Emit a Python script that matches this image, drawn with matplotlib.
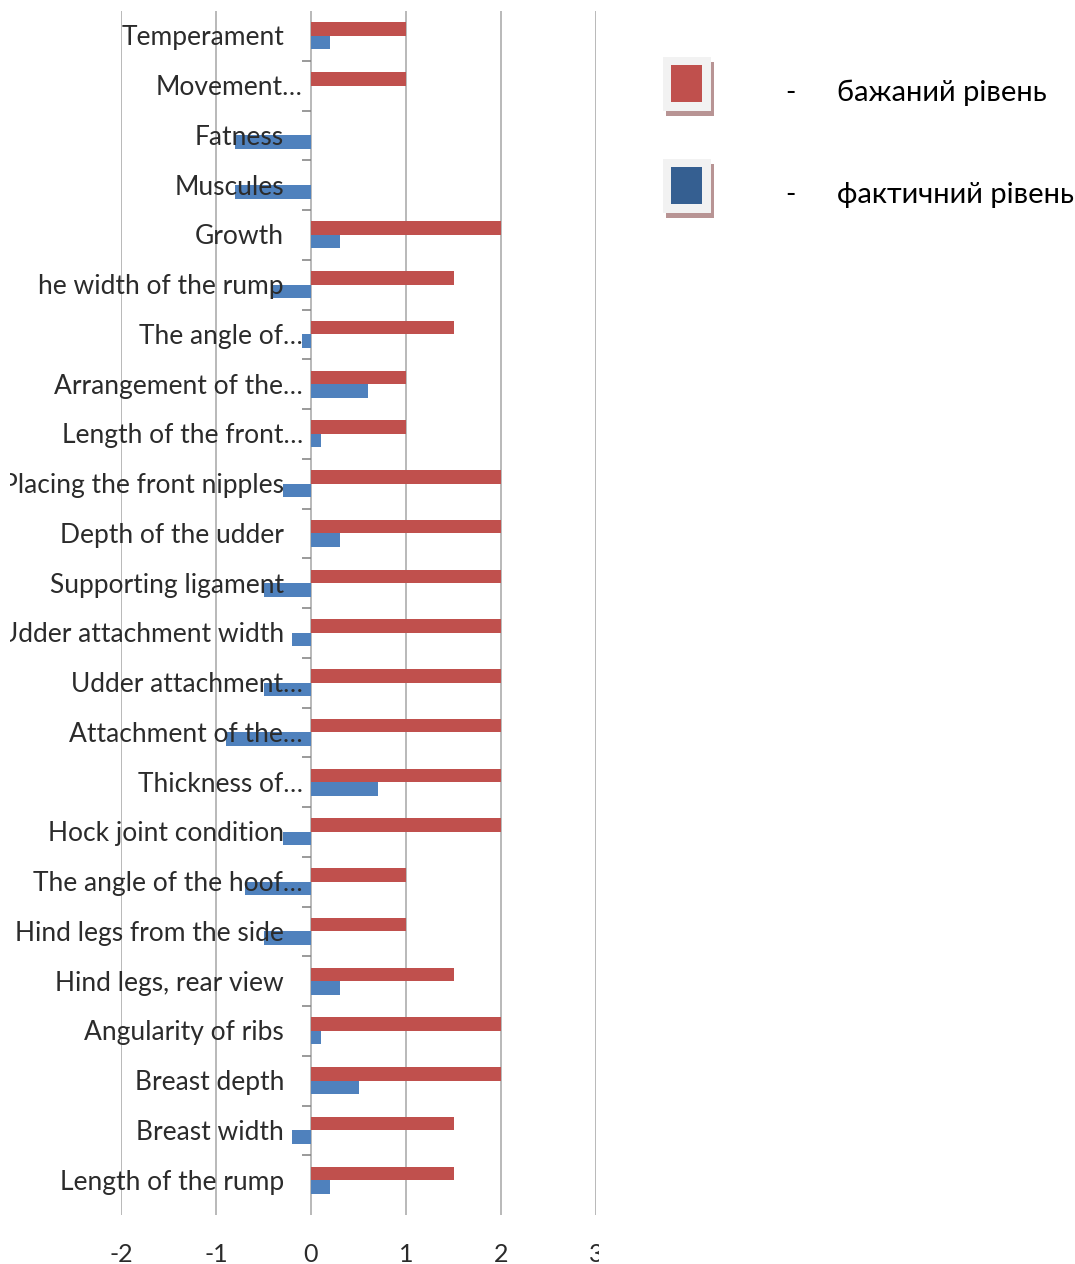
import matplotlib
matplotlib.use("Agg")
import matplotlib.pyplot as plt
import matplotlib.transforms as mtransforms
from matplotlib.patches import Rectangle
import numpy as np

# ознаки екстер'єру, зверху вниз
traits = [
    "Temperament", "Movement…", "Fatness", "Muscules", "Growth",
    "he width of the rump", "The angle of…", "Arrangement of the…",
    "Length of the front…", "Placing the front nipples", "Depth of the udder",
    "Supporting ligament", "Udder attachment width", "Udder attachment…",
    "Attachment of the…", "Thickness of…", "Hock joint condition",
    "The angle of the hoof…", "Hind legs from the side", "Hind legs, rear view",
    "Angularity of ribs", "Breast depth", "Breast width", "Length of the rump",
]
# бажаний рівень
desired = [1, 1, 0, 0, 2, 1.5, 1.5, 1, 1, 2, 2, 2, 2, 2, 2, 2, 2, 1, 1, 1.5, 2, 2, 1.5, 1.5]
# фактичний рівень
actual = [0.2, 0, -0.8, -0.8, 0.3, -0.4, -0.1, 0.6, 0.1, -0.3, 0.3, -0.5, -0.2, -0.5,
          -0.9, 0.7, -0.3, -0.7, -0.5, 0.3, 0.1, 0.5, -0.2, 0.2]
x_ticks = [-2, -1, 0, 1, 2, 3]
legend_labels = ["бажаний рівень", "фактичний рівень"]

RED = "#C0504D"
BLUE = "#4F81BD"
BLUE_DARK = "#355F91"
GRID = "#a6a6a6"
TXT = "#2b2b2b"

W, H = 1075, 1264
fig = plt.figure(figsize=(W / 100, H / 100), dpi=100)
fig.set_facecolor("white")
plt.rcParams["font.family"] = ["Lato", "DejaVu Sans"]

ax = fig.add_axes([121 / W, (H - 1215) / H, 475 / W, 1204 / H])
n = len(traits)
pos = np.arange(n)
bh = 0.27

ax.barh(pos - bh / 2, desired, height=bh, color=RED, zorder=3)
ax.barh(pos + bh / 2, actual, height=bh, color=BLUE, zorder=3)

ax.set_xlim(-2, 3)
ax.set_ylim(n - 0.5 + 0.2, -0.5)
for s in ax.spines.values():
    s.set_visible(False)
for xv in x_ticks:
    ax.axvline(xv, color=GRID, lw=1.1, zorder=1)
# короткі риски на осі категорій
ax.hlines(pos[:-1] + 0.5, -0.1, 0, color="#7f7f7f", lw=1.1, zorder=2)

ax.set_yticks([])
ax.set_xticks(x_ticks)
ax.set_xticklabels([str(v) for v in x_ticks], fontsize=18, color=TXT)
ax.tick_params(axis="x", length=0, pad=20)
clip = mtransforms.TransformedBbox(mtransforms.Bbox.from_extents(10 / W, 0, 599 / W, 1),
                                   fig.transFigure)
for lbl in ax.get_xticklabels():
    lbl.set_clip_box(clip)
    lbl.set_clip_on(True)

# підписи категорій праворуч вирівняні біля нульової осі
for i, name in enumerate(traits):
    shift = -8 if name.endswith("…") else -27
    tr = ax.transData + mtransforms.ScaledTranslation(shift / 100, 0, fig.dpi_scale_trans)
    fig.text(0, i + 0.04, name, transform=tr, ha="right", va="center", fontsize=19,
             color=TXT, clip_on=True, clip_box=clip, zorder=5)


def px_rect(x0, y0, x1, y1, color):
    fig.add_artist(Rectangle((x0 / W, 1 - y1 / H), (x1 - x0) / W, (y1 - y0) / H,
                             transform=fig.transFigure, facecolor=color,
                             edgecolor="none"))


# легенда праворуч
for k, (col, lab) in enumerate(zip([RED, BLUE_DARK], legend_labels)):
    dy = k * 102
    px_rect(666, 62 + dy, 714, 116 + dy, "#b89494")
    px_rect(663, 57 + dy, 711, 111 + dy, "#f2f2f2")
    px_rect(671, 65 + dy, 702, 102 + dy, col)
    yc = 1 - (93 + dy) / H
    fig.text(790 / W, yc, "-", ha="center", va="center", fontsize=20, color="black")
    fig.text(837 / W, yc, lab, ha="left", va="center", fontsize=21, color="black",
             family=["Lato", "DejaVu Sans"])

fig.savefig("out.png", dpi=100, facecolor="white")
